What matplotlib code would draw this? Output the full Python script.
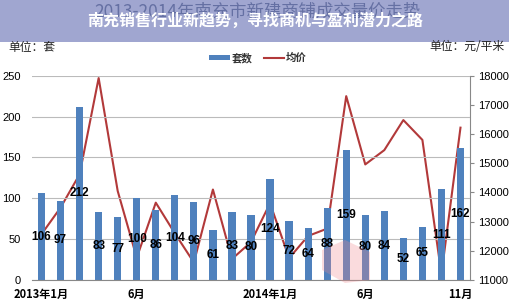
import matplotlib
matplotlib.use('Agg')
import matplotlib.pyplot as plt
from matplotlib.patches import Rectangle, Polygon
import numpy as np

plt.rcParams['font.family'] = ['Noto Sans CJK SC', 'DejaVu Sans']

months = ['2013年1月', '2', '3', '4', '5', '6月', '7', '8', '9', '10', '11', '12',
          '2014年1月', '2', '3', '4', '5', '6月', '7', '8', '9', '10', '11月']
tick_show = ['2013年1月', '', '', '', '', '6月', '', '', '', '', '', '',
             '2014年1月', '', '', '', '', '6月', '', '', '', '', '11月']
units = [106, 97, 212, 83, 77, 100, 86, 104, 96, 61, 83, 80,
         124, 72, 64, 88, 159, 80, 84, 52, 65, 111, 162]
prices = [12570, 13480, 14620, 17920, 14050, 11760, 13650, 12600, 11600, 14100, 11720, 12300,
          13630, 11750, 12510, 12760, 17300, 14960, 15450, 16480, 15800, 11200, 16220]

bar_c = '#4F81BD'
line_c = '#B2393A'
num_font = ['Liberation Sans', 'DejaVu Sans']

fig = plt.figure(figsize=(5.10, 3.04), dpi=100)
ax = fig.add_axes([32/510, 1-280/304, 438/510, (280-75.7)/304])
ax2 = ax.twinx()

x = np.arange(len(units))
ax.bar(x, units, width=0.38, color=bar_c, zorder=2)
ax2.plot(x, prices, color=line_c, lw=1.5, zorder=3)
ax.set_zorder(ax2.get_zorder() + 1)
ax.patch.set_visible(False)

for xi, v in zip(x, units):
    ax.text(xi, v/2, str(v), ha='center', va='center', fontsize=8.5,
            fontweight='bold', family=num_font, color='black', zorder=5)

ax.set_xlim(-0.5, len(units)-0.5)
ax.set_ylim(0, 250)
ax.set_yticks(range(0, 251, 50))
ax2.set_ylim(11000, 18000)
ax2.set_yticks(range(11000, 18001, 1000))
ax.yaxis.grid(True, color='#BBBBBB', lw=0.8, zorder=0)
ax.set_axisbelow(True)
ax.set_xticks(x)
ax.set_xticklabels(tick_show, fontsize=8, fontweight='bold')
ax.tick_params(axis='x', length=0, pad=6)
ax.tick_params(axis='y', length=0, labelsize=8, pad=8)
ax2.tick_params(axis='y', length=3, labelsize=8, pad=3, color='#888888')
for lab in ax.get_yticklabels() + ax2.get_yticklabels():
    lab.set_family(num_font)
for s in ['top', 'left', 'right']:
    ax.spines[s].set_visible(False)
for s in ['top', 'left', 'bottom']:
    ax2.spines[s].set_visible(False)
ax2.spines['right'].set_color('#888888')
ax.spines['bottom'].set_color('#888888')

# banner over the faded original title
fig.patches.append(Rectangle((0, 1-42/304), 1, 42/304, transform=fig.transFigure,
                             facecolor='#A0A6D0', edgecolor='none', zorder=3))
fig.text(0.505, 1-12/304, '2013-2014年南充市新建商铺成交量价走势', ha='center', va='center',
         fontsize=12.5, color='#6570A3', zorder=4)
fig.text(0.5, 1-21/304, '南充销售行业新趋势，寻找商机与盈利潜力之路', ha='center', va='center',
         fontsize=11.5, fontweight='bold', color='white', zorder=5)

fig.text(8/510, 1-47/304, '单位：套', ha='left', va='center', fontsize=8.5, color='#222222')
fig.text(505/510, 1-47/304, '单位：元/平米', ha='right', va='center', fontsize=8.5, color='#222222')

# legend
fig.patches.append(Rectangle((209/510, 1-59.5/304), 21/510, 4/304, transform=fig.transFigure,
                             facecolor=bar_c, edgecolor='none'))
fig.text(232/510, 1-58/304, '套数', ha='left', va='center', fontsize=7.5, fontweight='bold', color='#333333')
fig.lines.append(plt.Line2D([264/510, 284/510], [1-57.5/304, 1-57.5/304], transform=fig.transFigure,
                            color=line_c, lw=1.5))
fig.text(286/510, 1-58/304, '均价', ha='left', va='center', fontsize=7.5, fontweight='bold', color='#333333')

# faint watermark logo
fig.patches.append(Polygon([(322/510, 1-250/304), (345/510, 1-240/304), (370/510, 1-252/304),
                            (370/510, 1-280/304), (345/510, 1-283/304), (322/510, 1-270/304)],
                           closed=True, transform=fig.transFigure, facecolor='#F08A90',
                           alpha=0.3, edgecolor='none', zorder=6))

fig.savefig('out.png', dpi=100)
